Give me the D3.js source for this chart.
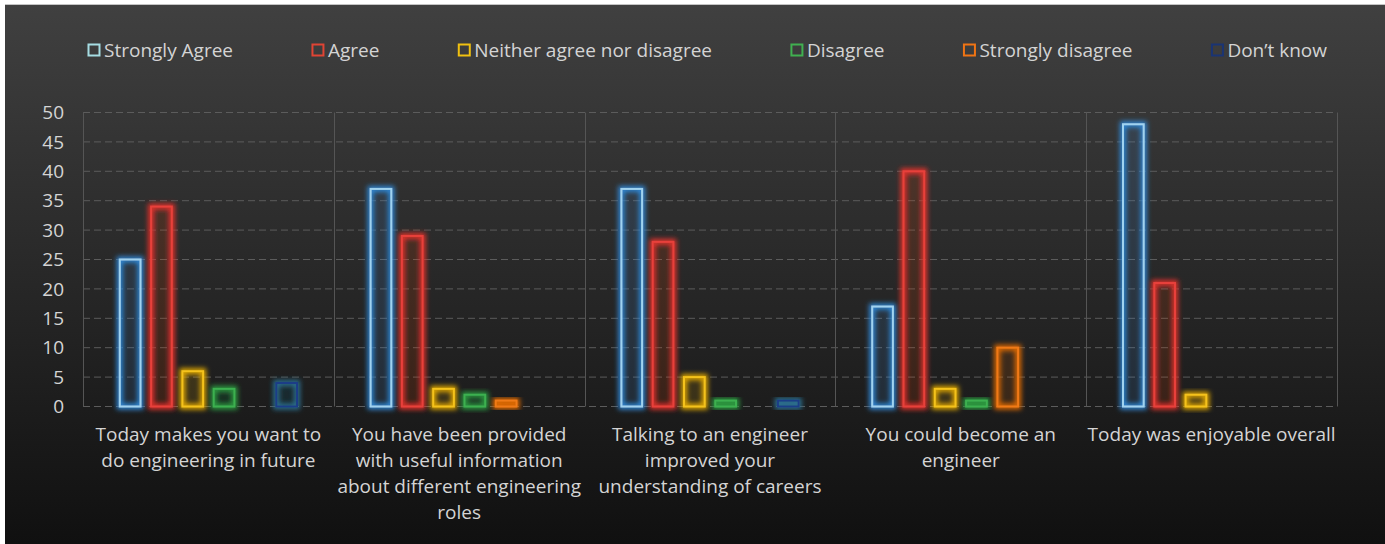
<!DOCTYPE html>
<html>
<head>
<meta charset="utf-8">
<script src="https://cdn.jsdelivr.net/npm/d3@7"></script>
<style>
  html, body { margin: 0; padding: 0; background: #fff; }
  svg { display: block; font-family: "Open Sans", sans-serif; }
</style>
</head>
<body>
<svg id="chart" width="1385" height="544"></svg>
<script>
// data
var categories = [
  ["Today makes you want to", "do engineering in future"],
  ["You have been provided", "with useful information", "about different engineering", "roles"],
  ["Talking to an engineer", "improved your", "understanding of careers"],
  ["You could become an", "engineer"],
  ["Today was enjoyable overall"]
];
var series = ["Strongly Agree", "Agree", "Neither agree nor disagree", "Disagree", "Strongly disagree", "Don\u2019t know"];
var stronglyAgree = [25, 37, 37, 17, 48];
var agree = [34, 29, 28, 40, 21];
var neither = [6, 3, 5, 3, 2];
var disagree = [3, 2, 1, 1, 0];
var stronglyDisagree = [0, 1, 0, 10, 0];
var dontKnow = [4, 0, 1, 0, 0];
var yTicks = [0, 5, 10, 15, 20, 25, 30, 35, 40, 45, 50];

var values = [stronglyAgree, agree, neither, disagree, stronglyDisagree, dontKnow];
var strokeColors = ["#9fd3f0", "#e8413a", "#f4c21a", "#3cb050", "#f07a14", "#1c3c88"];
var glowColors = ["#2f88d8", "#e0302a", "#e0a800", "#2a9a40", "#e06a00", "#2a7090"];
var legendColors = ["#a6dde3", "#e04434", "#f0c010", "#40b050", "#f07414", "#1a3474"];

var svg = d3.select("#chart"),
    width = +svg.attr("width"),
    height = +svg.attr("height");

var defs = svg.append("defs");
var grad = defs.append("linearGradient")
    .attr("id", "bg").attr("x1", 0).attr("y1", 0).attr("x2", 0).attr("y2", 1);
grad.append("stop").attr("offset", "0%").attr("stop-color", "#404040");
grad.append("stop").attr("offset", "100%").attr("stop-color", "#101010");

// one glow filter per series
glowColors.forEach(function(c, i) {
  var f = defs.append("filter").attr("id", "glow" + i)
      .attr("x", "-50%").attr("y", "-50%").attr("width", "200%").attr("height", "200%");
  f.append("feFlood").attr("flood-color", c).attr("flood-opacity", 1).attr("result", "col");
  f.append("feComposite").attr("in", "col").attr("in2", "SourceAlpha").attr("operator", "in").attr("result", "shape");
  f.append("feMorphology").attr("in", "shape").attr("operator", "dilate").attr("radius", 1.5).attr("result", "fat");
  f.append("feGaussianBlur").attr("in", "fat").attr("stdDeviation", 2.5).attr("result", "blur");
  var m = f.append("feMerge");
  m.append("feMergeNode").attr("in", "blur");
  m.append("feMergeNode").attr("in", "SourceGraphic");
});

// background
svg.append("rect").attr("x", 5).attr("y", 4).attr("width", width - 5).attr("height", height - 4)
    .attr("fill", "url(#bg)");
svg.append("line").attr("x1", 5).attr("x2", width).attr("y1", 4.5).attr("y2", 4.5)
    .attr("stroke", "#c4c4c4").attr("stroke-width", 1);

var plot = {left: 83, right: 1337, top: 112.5, bottom: 406.5};

var x0 = d3.scaleBand()
    .domain(d3.range(categories.length))
    .range([plot.left, plot.right])
    .padding(0);

var x1 = d3.scaleBand()
    .domain(d3.range(series.length))
    .range([0, x0.bandwidth()])
    .paddingInner(0.275)
    .paddingOuter(1.144);

var y = d3.scaleLinear().domain([0, 50]).range([plot.bottom, plot.top]);

// horizontal grid
svg.append("g").selectAll("line")
  .data(yTicks).enter()
  .append("line")
    .attr("x1", plot.left).attr("x2", plot.right)
    .attr("y1", function(d) { return y(d); })
    .attr("y2", function(d) { return y(d); })
    .attr("stroke", "#5c5c5c")
    .attr("stroke-width", 1)
    .attr("stroke-dasharray", "7,4");

// vertical category separators
var seps = d3.range(categories.length + 1).map(function(i) {
  return i < categories.length ? x0(i) : plot.right;
});
svg.append("g").selectAll("line")
  .data(seps).enter()
  .append("line")
    .attr("x1", function(d) { return Math.round(d) + 0.5; })
    .attr("x2", function(d) { return Math.round(d) + 0.5; })
    .attr("y1", plot.top).attr("y2", plot.bottom)
    .attr("stroke", "#555")
    .attr("stroke-width", 1);

// y tick labels
svg.append("g").selectAll("text")
  .data(yTicks).enter()
  .append("text")
    .attr("x", 64)
    .attr("y", function(d) { return y(d); })
    .attr("dy", "0.35em")
    .attr("text-anchor", "end")
    .attr("font-size", 19)
    .attr("fill", "#d4d4d4")
    .text(function(d) { return d; });

// bars
var groups = svg.append("g").selectAll("g")
  .data(categories).enter()
  .append("g")
    .attr("transform", function(d, i) { return "translate(" + x0(i) + ",0)"; });

groups.selectAll("rect")
  .data(function(d, ci) {
    return values.map(function(v, si) { return {s: si, v: v[ci]}; })
      .filter(function(d) { return d.v > 0; });
  }).enter()
  .append("rect")
    .attr("x", function(d) { return x1(d.s) + 1; })
    .attr("y", function(d) { return y(d.v); })
    .attr("width", x1.bandwidth() - 2)
    .attr("height", function(d) { return y(0) - y(d.v); })
    .attr("fill", function(d) { return glowColors[d.s]; })
    .attr("fill-opacity", 0.08)
    .attr("stroke", function(d) { return strokeColors[d.s]; })
    .attr("stroke-width", 2)
    .attr("filter", function(d) { return "url(#glow" + d.s + ")"; });

// category labels
var labels = svg.append("g").selectAll("text")
  .data(categories).enter()
  .append("text")
    .attr("text-anchor", "middle")
    .attr("font-size", 19)
    .attr("fill", "#d4d4d4");

labels.selectAll("tspan")
  .data(function(d, i) { return d.map(function(t) { return {t: t, i: i}; }); }).enter()
  .append("tspan")
    .attr("x", function(d) { return x0(d.i) + x0.bandwidth() / 2; })
    .attr("y", function(d, j) { return 434 + j * 26; })
    .attr("dy", "0.35em")
    .text(function(d) { return d.t; });

// legend, items spread with equal gaps between 88 and 1327
var legend = svg.append("g");
var items = legend.selectAll("g")
  .data(series).enter()
  .append("g");

items.append("rect")
    .attr("x", 0.5).attr("y", -5.5)
    .attr("width", 11).attr("height", 11)
    .attr("fill", "none")
    .attr("stroke", function(d, i) { return legendColors[i]; })
    .attr("stroke-width", 2);

items.append("text")
    .attr("x", 16)
    .attr("dy", "0.35em")
    .attr("font-size", 19)
    .attr("fill", "#d4d4d4")
    .text(function(d) { return d; });

var widths = [];
items.each(function() { widths.push(16 + d3.select(this).select("text").node().getComputedTextLength()); });
var gap = (1327 - 88 - d3.sum(widths)) / (series.length - 1);
var pos = 88;
items.attr("transform", function(d, i) {
  var t = "translate(" + pos + ",50)";
  pos += widths[i] + gap;
  return t;
});
</script>
</body>
</html>
